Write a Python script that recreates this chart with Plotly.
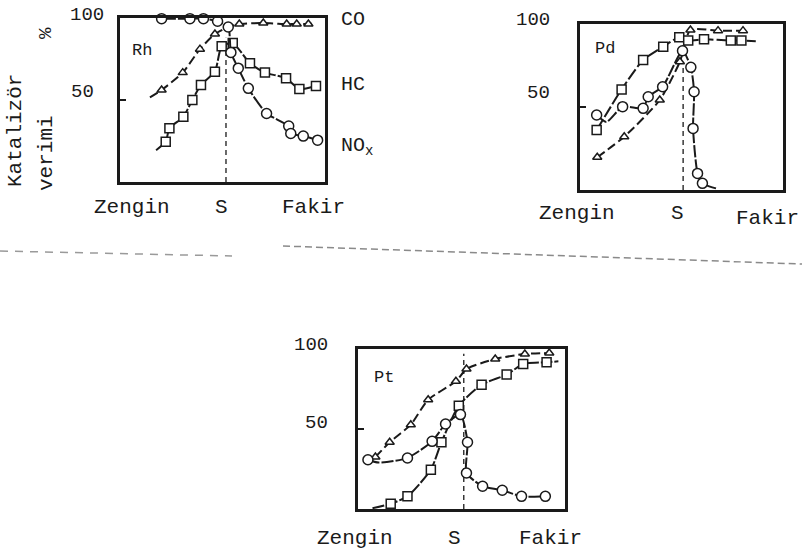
import plotly.graph_objects as go

# ---- data: catalyst conversion efficiency (%) vs. mixture (rich -> lean) ----
# x: 0 = Zengin (rich) ... 100 = Fakir (lean); mark flag 1 = point drawn with a symbol

# Rh
rh_s = 51.7
rh_co_x = [14.6, 20.3, 30.6, 39.0, 46.3, 52.0, 58.2, 69.9, 81.3, 86.2, 91.9, 95.5]
rh_co_y = [51.6, 56.1, 66.7, 81.0, 90.2, 94.0, 96.3, 96.9, 96.3, 96.3, 96.3, 96.6]
rh_co_m = [0, 1, 1, 1, 1, 0, 1, 1, 1, 1, 1, 0]
rh_hc_x = [17.6, 22.3, 24.1, 30.9, 35.3, 39.5, 46.3, 49.6, 55.0, 63.4, 70.7, 81.0, 87.5, 95.6]
rh_hc_y = [19.4, 24.5, 32.7, 39.8, 50.0, 59.2, 67.3, 82.7, 84.7, 72.4, 66.7, 63.3, 56.7, 58.6]
rh_hc_m = [0, 1, 1, 1, 1, 1, 1, 1, 1, 1, 1, 1, 1, 1]
rh_no_x = [20.3, 34.1, 40.7, 47.6, 52.8, 54.1, 57.7, 62.6, 71.5, 82.3, 83.3, 89.4, 96.4]
rh_no_y = [99.6, 99.6, 99.6, 98.0, 94.5, 79.0, 69.4, 57.1, 41.8, 34.1, 29.6, 28.0, 25.5]
rh_no_m = [1] * 13

# Pd
pd_s = 50.8
pd_co_x = [8.5, 21.8, 39.3, 49.2, 54.4, 68.0, 80.3]
pd_co_y = [19.7, 32.1, 54.2, 77.3, 96.4, 96.0, 96.0]
pd_co_m = [1] * 7
pd_hc_x = [8.2, 20.5, 31.1, 41.0, 48.9, 53.3, 61.1, 74.3, 79.5, 86.6]
pd_hc_y = [36.1, 60.6, 78.3, 86.3, 92.0, 90.0, 90.8, 90.0, 90.0, 89.6]
pd_hc_m = [1, 1, 1, 1, 1, 1, 1, 1, 1, 0]
pd_no_x = [8.2, 13.0, 21.0, 31.1, 33.6, 40.7, 50.5, 54.6, 56.2, 55.7, 57.9, 60.3, 67.0]
pd_no_y = [45.2, 41.0, 50.2, 49.2, 56.2, 62.2, 83.9, 73.9, 59.2, 37.1, 10.0, 4.0, 1.0]
pd_no_m = [1, 0, 1, 1, 1, 1, 1, 1, 1, 1, 1, 1, 0]

# Pt
pt_s = 51.1
pt_co_x = [8.4, 15.3, 25.5, 33.9, 47.3, 52.4, 66.3, 80.6, 92.4]
pt_co_y = [32.5, 41.7, 52.7, 68.3, 79.8, 87.5, 93.8, 96.9, 97.5]
pt_co_m = [1] * 9
pt_hc_x = [7.0, 15.8, 23.9, 35.2, 40.3, 48.7, 59.7, 71.8, 79.8, 91.1, 96.8]
pt_hc_y = [0.5, 3.3, 7.9, 24.6, 41.7, 64.6, 77.7, 84.0, 90.6, 91.7, 92.3]
pt_hc_m = [0, 1, 1, 1, 1, 1, 1, 1, 1, 1, 0]
pt_no_x = [4.8, 10.0, 23.9, 35.8, 42.3, 49.5, 52.9, 52.4, 60.2, 69.7, 79.0, 90.5]
pt_no_y = [30.8, 29.0, 31.9, 42.3, 53.1, 59.0, 41.7, 22.5, 14.2, 11.7, 7.9, 7.9]
pt_no_m = [1, 0, 1, 1, 1, 1, 1, 1, 1, 1, 1, 1]

y_ticks = [50, 100]
x_labels = ["Zengin", "S", "Fakir"]

FONT = "Liberation Mono"
INK = "#1a1a1a"

fig = go.Figure()


def series(xs, ys, marks, symbol, size, dash, ax):
    fig.add_trace(go.Scatter(
        x=xs, y=ys, mode="lines+markers",
        line=dict(color=INK, width=2, dash=dash, shape="spline", smoothing=0.6),
        marker=dict(symbol=symbol, size=[size * m for m in marks], opacity=1,
                    color="white", line=dict(color=INK, width=1.5)),
        xaxis="x" + ax, yaxis="y" + ax, cliponaxis=False, showlegend=False,
        hoverinfo="skip"))


def s_line(s, top, ax):
    fig.add_trace(go.Scatter(
        x=[s, s], y=[0, top], mode="lines",
        line=dict(color=INK, width=1.3, dash="5px,4px"),
        xaxis="x" + ax, yaxis="y" + ax, showlegend=False, hoverinfo="skip"))


panels = [
    ("", rh_s, 88, [(rh_co_x, rh_co_y, rh_co_m, "triangle-up", 8, "9px,4px"),
                    (rh_hc_x, rh_hc_y, rh_hc_m, "square", 9, "12px,2px"),
                    (rh_no_x, rh_no_y, rh_no_m, "circle", 10, "14px,2px")]),
    ("2", pd_s, 76, [(pd_co_x, pd_co_y, pd_co_m, "triangle-up", 8, "9px,4px"),
                     (pd_hc_x, pd_hc_y, pd_hc_m, "square", 9, "12px,3px"),
                     (pd_no_x, pd_no_y, pd_no_m, "circle", 10, "12px,2px")]),
    ("3", pt_s, 97, [(pt_co_x, pt_co_y, pt_co_m, "triangle-up", 8, "9px,4px"),
                     (pt_hc_x, pt_hc_y, pt_hc_m, "square", 9, "12px,2px"),
                     (pt_no_x, pt_no_y, pt_no_m, "circle", 10, "12px,2px")]),
]

for ax, s, top, lines in panels:
    s_line(s, top, ax)
    for xs, ys, ms, sym, sz, dash in lines:
        series(xs, ys, ms, sym, sz, dash, ax)

W, H = 802, 551


def px(x):
    return x / W


def py(y):
    return 1 - y / H


# panel boxes (pixel extents)
boxes = {"": (120, 325, 18, 182), "2": (580, 783, 24, 190), "3": (358, 565, 349, 509)}

axis_common = dict(range=[0, 100], showline=True, linewidth=3, linecolor=INK, mirror=True,
                   showgrid=False, zeroline=False, showticklabels=False, fixedrange=True)
layout = dict(width=W, height=H, margin=dict(l=0, r=0, t=0, b=0),
              paper_bgcolor="white", plot_bgcolor="white", showlegend=False)
for ax, (x0, x1, y0, y1) in boxes.items():
    layout["xaxis" + ax] = dict(axis_common, domain=[px(x0), px(x1)], anchor="y" + ax, ticks="")
    layout["yaxis" + ax] = dict(axis_common, domain=[py(y1), py(y0)], anchor="x" + ax,
                                ticks="inside", tickvals=[50], ticklen=6, tickwidth=1.5,
                                tickcolor=INK)
fig.update_layout(**layout)


def txt(text, x, y, size=21, xanchor="center", angle=0):
    fig.add_annotation(text=text, x=px(x), y=py(y), xref="paper", yref="paper",
                       showarrow=False, xanchor=xanchor, yanchor="middle",
                       textangle=angle, font=dict(family=FONT, size=size, color=INK))


# Rh panel texts
txt(str(y_ticks[1]), 106, 15, size=19, xanchor="right")
txt(str(y_ticks[0]), 96, 92, size=19, xanchor="right")
txt("Rh", 130, 50, size=17, xanchor="left")
txt("CO", 339, 20, size=20, xanchor="left")
txt("HC", 339, 84, size=20, xanchor="left")
txt("NO<sub>x</sub>", 339, 147, size=20, xanchor="left")
txt(x_labels[0], 132, 208)
txt(x_labels[1], 221, 208)
txt(x_labels[2], 313, 208)
txt("Katalizör", 15, 131, angle=-90)
txt("verimi", 46, 153, angle=-90)
txt("%", 46, 33, size=19, angle=-90)

# Pd panel texts
txt(str(y_ticks[1]), 552, 20, size=19, xanchor="right")
txt(str(y_ticks[0]), 552, 93, size=19, xanchor="right")
txt("Pd", 593, 48, size=17, xanchor="left")
txt(x_labels[0], 577, 213)
txt(x_labels[1], 677, 213)
txt(x_labels[2], 767, 218)

# Pt panel texts
txt(str(y_ticks[1]), 330, 345, size=19, xanchor="right")
txt(str(y_ticks[0]), 330, 423, size=19, xanchor="right")
txt("Pt", 372, 377, size=17, xanchor="left")
txt(x_labels[0], 355, 538)
txt(x_labels[1], 454, 538)
txt(x_labels[2], 550, 538)

# faint page separators
fig.add_shape(type="line", xref="paper", yref="paper", x0=px(0), y0=py(251), x1=px(232), y1=py(256),
              line=dict(color="#9a9a9a", width=1.5, dash="8px,7px"))
fig.add_shape(type="line", xref="paper", yref="paper", x0=px(283), y0=py(246), x1=px(802), y1=py(264),
              line=dict(color="#8a8a8a", width=1.5, dash="7px,4px"))

fig.write_html("out.html")
